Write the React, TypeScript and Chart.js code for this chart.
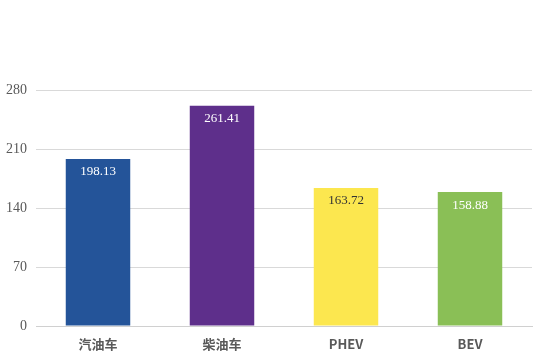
import React, { useEffect, useRef } from "react";
import { Chart, registerables } from "chart.js";

Chart.register(...registerables);

const categories = ["汽油车", "柴油车", "PHEV", "BEV"];
const values = [198.13, 261.41, 163.72, 158.88];
const barColors = ["#245499", "#5e2f8b", "#fce74f", "#8abf56"];
const labelColors = ["#ffffff", "#ffffff", "#333333", "#ffffff"];
const yTicks = [0, 70, 140, 210, 280];

const valueLabels = {
  id: "valueLabels",
  afterDatasetsDraw(chart: any) {
    const ctx = chart.ctx;
    const meta = chart.getDatasetMeta(0);
    ctx.save();
    ctx.font = '13px "Liberation Serif", serif';
    ctx.textAlign = "center";
    ctx.textBaseline = "middle";
    meta.data.forEach((el: any, i: number) => {
      ctx.fillStyle = labelColors[i];
      ctx.fillText(values[i].toFixed(2), el.x, el.y + 13);
    });
    ctx.restore();
  },
};

export default function App() {
  const ref = useRef<HTMLCanvasElement | null>(null);
  useEffect(() => {
    if (!ref.current) return;
    const chart = new Chart(ref.current, {
      type: "bar",
      data: {
        labels: categories,
        datasets: [
          {
            data: values,
            backgroundColor: barColors,
            categoryPercentage: 1,
            barPercentage: 0.52,
          },
        ],
      },
      options: {
        animation: false,
        responsive: false,
        layout: { padding: { top: 90, right: 22, left: 0, bottom: 0 } },
        plugins: { legend: { display: false }, tooltip: { enabled: false } },
        scales: {
          x: {
            grid: { display: false, drawTicks: false },
            border: { display: true, color: "#d0d0d0", width: 1 },
            ticks: {
              padding: 10,
              color: "#595959",
              font: { family: '"Noto Sans CJK SC", "Noto Sans", sans-serif', size: 13, weight: "bold" },
            },
            afterFit(scale: any) {
              scale.height = 32;
            },
          },
          y: {
            min: 0,
            max: 280,
            afterBuildTicks(scale: any) {
              scale.ticks = yTicks.map((v) => ({ value: v }));
            },
            grid: { color: "#d9d9d9", drawTicks: false },
            border: { display: false },
            ticks: {
              padding: 9,
              color: "#595959",
              font: { family: '"Liberation Serif", serif', size: 14 },
            },
            afterFit(scale: any) {
              scale.width = 36;
            },
          },
        },
      },
      plugins: [valueLabels],
    });
    return () => chart.destroy();
  }, []);
  return (
    <div style={{ position: "absolute", left: 0, top: 0, width: 554, height: 358, background: "#fff" }}>
      <canvas ref={ref} width={554} height={358} style={{ width: 554, height: 358 }} />
    </div>
  );
}
